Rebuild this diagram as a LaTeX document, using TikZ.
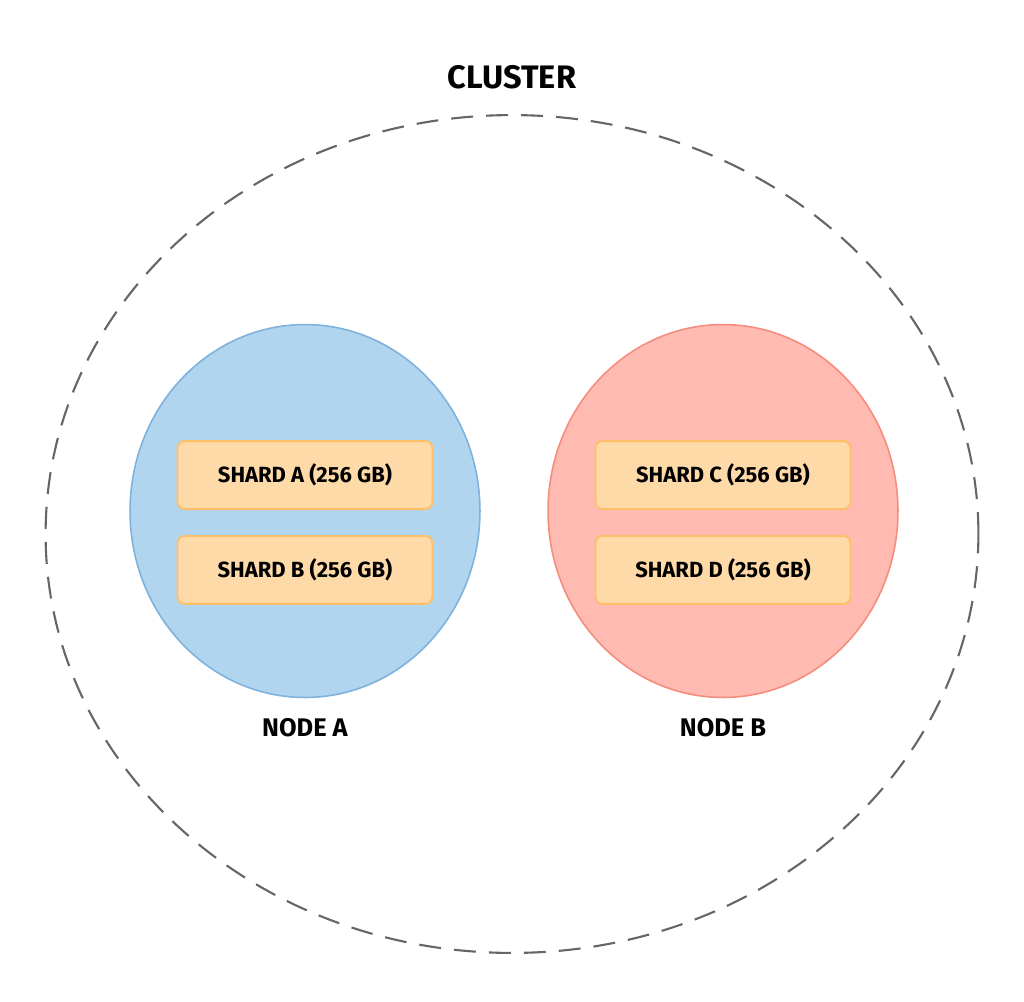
\documentclass[tikz,border=0pt]{standalone}
\usepackage{fontspec}
\setmainfont{Fira Sans}
\usetikzlibrary{shapes, positioning}
\definecolor{clusterline}{RGB}{102,102,102}
\definecolor{blueline}{RGB}{126,178,221}
\definecolor{bluefill}{RGB}{177,213,239}
\definecolor{redline}{RGB}{246,140,125}
\definecolor{redfill}{RGB}{255,187,177}
\definecolor{shardline}{RGB}{253,192,105}
\definecolor{shardfill}{RGB}{255,218,169}

\begin{document}
\begin{tikzpicture}[x=0.02cm, y=-0.02cm]
		\tikzstyle{machine}=[ellipse, inner sep=0pt, line width=0.9pt, minimum width=7cm, minimum height=7.46cm]
		\tikzstyle{shard}=[rectangle, rounded corners=4pt, draw=shardline, fill=shardfill, line width=1.1pt, minimum width=5.1cm, minimum height=1.36cm, font=\bfseries\fontsize{12.5}{15}\selectfont]
		\tikzstyle{caption}=[font=\bfseries\fontsize{14.5}{17}\selectfont]

		\useasboundingbox (0,0) rectangle (1024,1001);

		\node[ellipse, draw=clusterline, line width=1.2pt, dash pattern=on 0.44cm off 0.26cm, inner sep=0pt, minimum width=18.66cm, minimum height=16.76cm] (cluster) at (512,534) {};
		\node[caption, font=\bfseries\fontsize{18.5}{22}\selectfont, above=0.38cm of cluster] (clusterLabel) {CLUSTER};

		\node[machine, draw=blueline, fill=bluefill] (nodeA) at (305,511) {};
		\node[machine, draw=redline, fill=redfill] (nodeB) at (723,511) {};

		\node[shard, anchor=south] (shardA) at (305,510) {SHARD A (256 GB)};
		\node[shard, below=0.5cm of shardA] (shardB) {SHARD B (256 GB)};
		\node[shard, anchor=south] (shardC) at (723,510) {SHARD C (256 GB)};
		\node[shard, below=0.5cm of shardC] (shardD) {SHARD D (256 GB)};

		\node[caption, below=0.28cm of nodeA] (labelA) {NODE A};
		\node[caption, below=0.28cm of nodeB] (labelB) {NODE B};

	\end{tikzpicture}
\end{document}
